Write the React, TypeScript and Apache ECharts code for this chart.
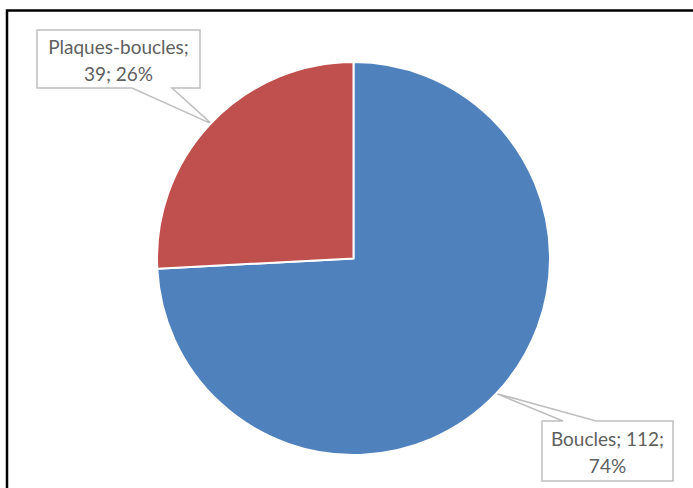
import React, { useEffect, useRef } from "react";
import * as echarts from "echarts";

const categories = ["Boucles", "Plaques-boucles"];
const values = [112, 39];
const colors = ["#4F81BD", "#C0504D"];

const W = 693;
const H = 488;
const CX = 353.5;
const CY = 258.5;
const R = 196.5;

// callout boxes (layout only)
const boxes = [
  { x: 542, y: 421, w: 131, h: 60, baseL: 563, baseR: 596, baseEdge: "top" },
  { x: 37, y: 30, w: 163, h: 58, baseL: 132, baseR: 172, baseEdge: "bottom" },
];

export default function App() {
  const ref = useRef<HTMLDivElement>(null);
  useEffect(() => {
    if (!ref.current) return;
    const chart = echarts.init(ref.current, null, { renderer: "svg" });
    const total = values.reduce((a, b) => a + b, 0);
    let cum = 0;
    const tips = values.map((v) => {
      const midFrac = (cum + v / 2) / total;
      cum += v;
      const ang = (90 - midFrac * 360) * (Math.PI / 180);
      return [CX + (R - 1) * Math.cos(ang), CY - (R - 1) * Math.sin(ang)];
    });

    const callouts = boxes.map((b, i) => {
      const tip = tips[i];
      let pts: number[][];
      if (b.baseEdge === "top") {
        pts = [
          [b.x, b.y],
          [b.baseL, b.y],
          tip,
          [b.baseR, b.y],
          [b.x + b.w, b.y],
          [b.x + b.w, b.y + b.h],
          [b.x, b.y + b.h],
        ];
      } else {
        pts = [
          [b.x, b.y],
          [b.x + b.w, b.y],
          [b.x + b.w, b.y + b.h],
          [b.baseR, b.y + b.h],
          tip,
          [b.baseL, b.y + b.h],
          [b.x, b.y + b.h],
        ];
      }
      return {
        type: "polygon",
        z: 0,
        shape: { points: pts },
        style: { fill: "#ffffff", stroke: "#BFBFBF", lineWidth: 1.5 },
      };
    });

    chart.setOption({
      animation: false,
      backgroundColor: "#ffffff",
      graphic: [
        {
          type: "rect",
          z: 0,
          shape: { x: 7, y: 10.5, width: 800, height: 600 },
          style: { fill: "none", stroke: "#000000", lineWidth: 2.5 },
        },
        ...callouts,
      ],
      series: [
        {
          type: "pie",
          z: 2,
          center: [CX, CY],
          radius: [0, R],
          startAngle: 90,
          clockwise: true,
          percentPrecision: 0,
          data: categories.map((name, i) => ({
            name,
            value: values[i],
            itemStyle: { color: colors[i] },
          })),
          itemStyle: { borderColor: "#ffffff", borderWidth: 2 },
          emphasis: { disabled: true },
          labelLine: { show: false },
          label: {
            show: true,
            position: "outside",
            fontFamily: "Lato",
            fontSize: 19,
            lineHeight: 27,
            color: "#5f5f5f",
            align: "center",
            formatter: (p: any) =>
              p.name.length > 10
                ? `${p.name};\n${p.value}; ${p.percent}%`
                : `${p.name}; ${p.value};\n${p.percent}%`,
          },
          labelLayout: (params: any) => {
            const b = boxes[params.dataIndex];
            return {
              x: b.x + b.w / 2,
              y: b.y + b.h / 2 + 1,
              align: "center",
              verticalAlign: "middle",
            };
          },
        },
      ],
    });
    return () => chart.dispose();
  }, []);
  return (
    <div
      ref={ref}
      style={{ position: "fixed", left: 0, top: 0, width: W, height: H }}
    />
  );
}
